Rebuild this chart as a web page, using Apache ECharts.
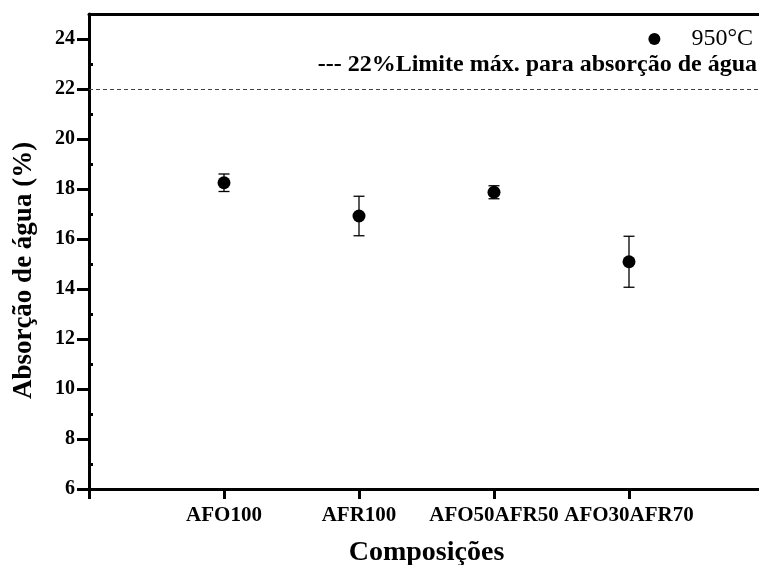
<!DOCTYPE html>
<html>
<head>
<meta charset="utf-8">
<script src="https://cdn.jsdelivr.net/npm/echarts@6/dist/echarts.min.js"></script>
<style>
  html, body { margin: 0; padding: 0; background: #fff; }
  #chart { width: 759px; height: 565px; }
</style>
</head>
<body>
<div id="chart"></div>
<script>
// Water absorption of fired compositions (950 °C), mean ± standard deviation
const categories = ['AFO100', 'AFR100', 'AFO50AFR50', 'AFO30AFR70'];
const absorption = [18.25, 16.92, 17.87, 15.09];
const deviation = [0.35, 0.79, 0.26, 1.02];
const yTicks = [6, 8, 10, 12, 14, 16, 18, 20, 22, 24];
const yMinorTicks = [7, 9, 11, 13, 15, 17, 19, 21, 23];
const xTicks = [0, 1, 2, 3, 4];
const limitValue = 22;

const FONT = '"Liberation Serif", "Times New Roman", serif';

const points = absorption.map((v, i) => [i + 1, v]);
const bars = absorption.map((v, i) => [i + 1, v - deviation[i], v + deviation[i]]);

const chart = echarts.init(document.getElementById('chart'), null, { renderer: 'canvas' });

chart.setOption({
  animation: false,
  backgroundColor: '#fff',
  grid: { left: 89, right: -5, top: 14, bottom: 76, containLabel: false, outerBoundsMode: 'none' },
  legend: {
    data: [{ name: '950°C', icon: 'circle' }],
    right: 1, top: 22,
    itemWidth: 12, itemHeight: 12, itemGap: 8,
    textStyle: { fontFamily: FONT, fontSize: 24, color: '#000', padding: [0, 0, 0, 26] }
  },
  xAxis: [{
    type: 'value', min: 0, max: 5, interval: 1,
    axisLine: { lineStyle: { color: '#000', width: 3 } },
    axisTick: { length: 10, customValues: xTicks, lineStyle: { color: '#000', width: 3 } },
    splitLine: { show: false },
    axisLabel: {
      customValues: [1, 2, 3, 4],
      margin: 16, fontFamily: FONT, fontWeight: 'bold', fontSize: 21, color: '#000',
      formatter: v => categories[v - 1] || ''
    },
    name: 'Composições', nameLocation: 'middle', nameGap: 50,
    nameTextStyle: { fontFamily: FONT, fontWeight: 'bold', fontSize: 28, color: '#000' }
  }, {
    type: 'value', min: 0, max: 5, position: 'top',
    axisLine: { show: true, lineStyle: { color: '#000', width: 3 } },
    axisTick: { show: false }, axisLabel: { show: false }, splitLine: { show: false }
  }],
  yAxis: [{
    type: 'value', min: 6, max: 25, interval: 2,
    axisLine: { show: true, lineStyle: { color: '#000', width: 3 } },
    axisTick: { length: 12, customValues: yTicks, lineStyle: { color: '#000', width: 3 } },
    splitLine: { show: false },
    axisLabel: {
      customValues: yTicks, margin: 14,
      fontFamily: FONT, fontWeight: 'bold', fontSize: 20, color: '#000'
    },
    name: 'Absorção de água (%)', nameLocation: 'middle', nameGap: 51,
    nameTextStyle: {
      fontFamily: FONT, fontWeight: 'bold', fontSize: 27, color: '#000',
      padding: [0, 38, 0, 0]
    }
  }, {
    type: 'value', min: 6, max: 25, position: 'left',
    axisLine: { show: false },
    axisTick: { show: true, inside: true, length: 4, customValues: yMinorTicks, lineStyle: { color: '#000', width: 3 } },
    axisLabel: { show: false }, splitLine: { show: false }
  }],
  graphic: [{
    type: 'text', right: 2, top: 53,
    style: {
      text: '--- 22%Limite máx. para absorção de água',
      font: 'bold 24px ' + FONT, fill: '#000'
    }
  }],
  series: [{
    name: 'limit', type: 'line', data: [],
    markLine: {
      silent: true, symbol: 'none', label: { show: false },
      lineStyle: { color: '#444', type: [4, 3], width: 1 },
      data: [{ yAxis: limitValue }]
    }
  }, {
    name: 'errorbars', type: 'custom',
    data: bars,
    renderItem: (params, api) => {
      const x = api.value(0);
      const lo = api.coord([x, api.value(1)]);
      const hi = api.coord([x, api.value(2)]);
      const hw = 5.5;
      const st = { stroke: '#000', lineWidth: 1.3 };
      return {
        type: 'group',
        children: [
          { type: 'line', shape: { x1: lo[0], y1: lo[1], x2: hi[0], y2: hi[1] }, style: st },
          { type: 'line', shape: { x1: lo[0] - hw, y1: lo[1], x2: lo[0] + hw, y2: lo[1] }, style: st },
          { type: 'line', shape: { x1: hi[0] - hw, y1: hi[1], x2: hi[0] + hw, y2: hi[1] }, style: st }
        ]
      };
    },
    z: 2
  }, {
    name: '950°C', type: 'scatter', data: points,
    symbol: 'circle', symbolSize: 13,
    itemStyle: { color: '#000', opacity: 1 }, z: 3
  }]
});
</script>
</body>
</html>
